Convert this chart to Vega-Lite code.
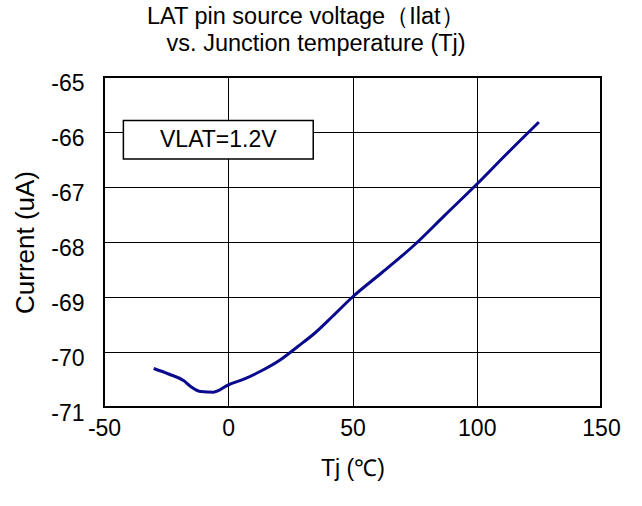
{
  "$schema": "https://vega.github.io/schema/vega-lite/v6.json",
  "width": 497,
  "height": 330,
  "autosize": "none",
  "padding": {"left": 104, "top": 77, "right": 41, "bottom": 99},
  "background": "white",
  "config": {
    "font": "Liberation Sans",
    "view": {"stroke": "black", "strokeWidth": 2},
    "axis": {
      "grid": true,
      "gridColor": "black",
      "gridOpacity": 1,
      "gridWidth": 1,
      "ticks": false,
      "tickSize": 0,
      "domain": false,
      "labelFlush": false,
      "labelFont": "Liberation Sans",
      "labelFontSize": 23,
      "labelColor": "black",
      "labelExpr": "toString(datum.value)",
      "titleFont": "Liberation Sans",
      "titleFontSize": 23,
      "titleFontWeight": "normal",
      "titleColor": "black"
    }
  },
  "title": {
    "text": ["LAT pin source voltage（Ilat）", "\u200b\u00a0\u00a0\u00a0vs. Junction temperature (Tj)"],
    "anchor": "start",
    "frame": "group",
    "dx": 43,
    "fontSize": 23.5,
    "fontWeight": "normal",
    "font": "Liberation Sans",
    "color": "black",
    "lineHeight": 27,
    "offset": 17
  },
  "datasets": {
    "curve": [
      {"tj": -30, "current": -70.3},
      {"tj": -24, "current": -70.4},
      {"tj": -18, "current": -70.52},
      {"tj": -15, "current": -70.63},
      {"tj": -11, "current": -70.72},
      {"tj": -6, "current": -70.73},
      {"tj": 0, "current": -70.6},
      {"tj": 7, "current": -70.48},
      {"tj": 13, "current": -70.35},
      {"tj": 21, "current": -70.14},
      {"tj": 28, "current": -69.9},
      {"tj": 35, "current": -69.65},
      {"tj": 42, "current": -69.35},
      {"tj": 50, "current": -69.0},
      {"tj": 62, "current": -68.55},
      {"tj": 75, "current": -68.05},
      {"tj": 87, "current": -67.52},
      {"tj": 100, "current": -66.95},
      {"tj": 112, "current": -66.4},
      {"tj": 125, "current": -65.82}
    ],
    "box": [
      {"x1": -42.2, "x2": 34.2, "y1": -65.79, "y2": -66.49, "cx": -4, "cy": -66.14, "label": "VLAT=1.2V"}
    ]
  },
  "layer": [
    {
      "data": {"name": "curve"},
      "mark": {"type": "line", "color": "#0a0a8c", "strokeWidth": 3, "interpolate": "monotone"},
      "encoding": {
        "x": {
          "field": "tj",
          "type": "quantitative",
          "title": "Tj (℃)",
          "scale": {"domain": [-50, 150], "nice": false, "zero": false},
          "axis": {"values": [-50, 0, 50, 100, 150], "labelPadding": 10, "titlePadding": 17}
        },
        "y": {
          "field": "current",
          "type": "quantitative",
          "title": "Current (uA)",
          "scale": {"domain": [-71, -65], "nice": false, "zero": false},
          "axis": {"values": [-71, -70, -69, -68, -67, -66, -65], "labelPadding": 20, "labelOffset": 6, "titlePadding": 12, "titleFontSize": 26}
        }
      }
    },
    {
      "data": {"name": "box"},
      "mark": {"type": "rect", "fill": "white", "stroke": "black", "strokeWidth": 1.5},
      "encoding": {
        "x": {"field": "x1", "type": "quantitative"},
        "x2": {"field": "x2"},
        "y": {"field": "y1", "type": "quantitative"},
        "y2": {"field": "y2"}
      }
    },
    {
      "data": {"name": "box"},
      "mark": {"type": "text", "fontSize": 23, "font": "Liberation Sans", "color": "black", "align": "center", "baseline": "middle"},
      "encoding": {
        "x": {"field": "cx", "type": "quantitative"},
        "y": {"field": "cy", "type": "quantitative"},
        "text": {"field": "label"}
      }
    }
  ]
}
